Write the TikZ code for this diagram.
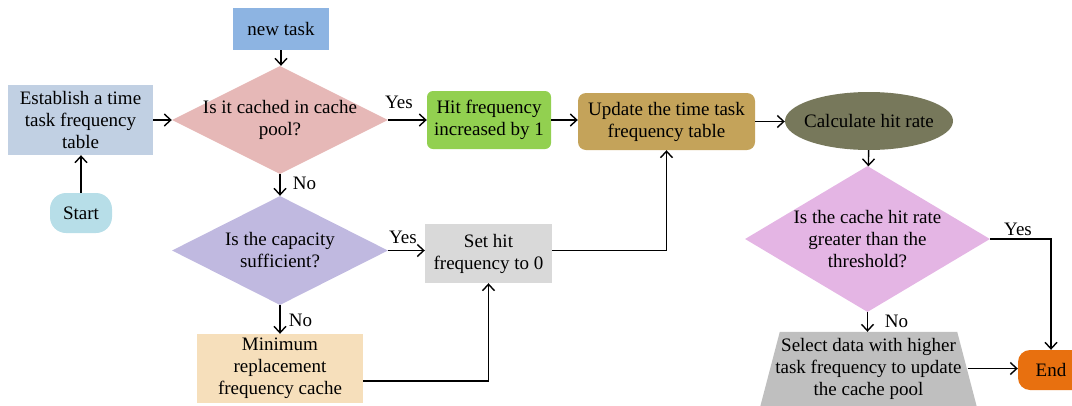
\documentclass[tikz,border=0pt]{standalone}
\usepackage{fontspec}
\setmainfont{Liberation Serif}
\usetikzlibrary{arrows.meta,shapes.geometric,backgrounds}

\definecolor{cNew}{HTML}{8DB4E2}
\definecolor{cEst}{HTML}{C1D0E3}
\definecolor{cStart}{HTML}{B7DEE8}
\definecolor{cAsk}{HTML}{E6B8B7}
\definecolor{cCap}{HTML}{C0B9E0}
\definecolor{cMin}{HTML}{F6DFBB}
\definecolor{cSet}{HTML}{D9D9D9}
\definecolor{cHit}{HTML}{92D050}
\definecolor{cUpd}{HTML}{C4A35A}
\definecolor{cCalc}{HTML}{77785B}
\definecolor{cRate}{HTML}{E4B5E4}
\definecolor{cSel}{HTML}{BFBFBF}
\definecolor{cEnd}{HTML}{E8700F}

\begin{document}
\begin{tikzpicture}[x=1pt,y=-1pt,
  every node/.style={font=\fontsize{19}{22}\selectfont, align=center, inner sep=0pt},
  box/.style={rectangle, draw=none},
  dia/.style={diamond, draw=none},
  lbl/.style={anchor=base},
  flow/.style={draw=black, line width=1.4pt, -{Straight Barb[length=6.5pt,width=12pt]}}]

\useasboundingbox (0,0) rectangle (1072,405);
\clip (0,0) rectangle (1072,405);

% process boxes
\node[box, fill=cNew, minimum width=96pt, minimum height=42pt] (new) at (281,29) {new task};
\node[box, fill=cEst, minimum width=145pt, minimum height=70pt] (est) at (80.5,120) {Establish a time\\task frequency\\table};
\node[box, fill=cStart, rounded corners=16pt, minimum width=62pt, minimum height=40pt] (start) at (81,213) {Start};
\node[box, fill=cHit, rounded corners=6pt, minimum width=124pt, minimum height=58pt] (hit) at (489,120) {Hit frequency\\increased by 1};
\node[box, fill=cUpd, rounded corners=8pt, minimum width=177pt, minimum height=57pt] (upd) at (666.5,121.5) {Update the time task\\frequency table};
\node[box, fill=cSet, minimum width=127pt, minimum height=59pt] (set) at (488.5,253.5) {Set hit\\frequency to 0};
\node[box, fill=cMin, minimum width=166pt, minimum height=69pt] (min) at (280,368.5) {Minimum\\replacement\\frequency cache};
\node[box, fill=cEnd, rounded corners=12pt, minimum width=66pt, minimum height=40pt] (end) at (1051,370) {End};

% decisions
\node[dia, fill=cAsk, minimum width=216pt, minimum height=108pt] (d1) at (280,120) {};
\node (d1t) at (d1) {Is it cached in cache\\pool?};
\node[dia, fill=cCap, minimum width=216pt, minimum height=109pt] (d2) at (280,250.5) {};
\node (d2t) at (d2) {Is the capacity\\sufficient?};
\node[dia, fill=cRate, minimum width=245pt, minimum height=146pt] (d3) at (867.5,239) {};
\node (d3t) at (d3) {Is the cache hit rate\\greater than the\\threshold?};

% hit rate
\node[ellipse, fill=cCalc, minimum width=168pt, minimum height=58pt] (calc) at (869,121) {};
\node (calct) at (calc) {Calculate hit rate};

% cache pool update (trapezoid)
\node[box, minimum width=198pt, minimum height=73pt] (sel) at (868.5,368.5) {Select data with higher\\task frequency to update\\the cache pool};
\begin{scope}[on background layer]
  \fill[cSel] ([xshift=10.5pt]sel.north west) -- ([xshift=-10.5pt]sel.north east)
    -- ([xshift=9.5pt,yshift=-3pt]sel.south east) -- ([xshift=-9.5pt,yshift=-3pt]sel.south west) -- cycle;
\end{scope}

% connectors
\draw[flow] (start.north) -- (start.north |- est.south);
\draw[flow] (est) -- (d1);
\draw[flow] (new.south) -- (new.south |- d1.north);
\draw[flow] (d1) -- (hit);
\draw[flow] (d1) -- (d2);
\draw[flow] (d2.east) -- (d2.east -| set.west);
\draw[flow] (d2) -- (min);
\draw[flow] ([yshift=-12.5pt]min.east) -| (set.south);
\draw[flow] (hit.east) -- (hit.east -| upd.west);
\draw[flow] ([yshift=3pt]set.east) -| (upd.south);
\draw[flow] (upd.east) -- (upd.east -| calc.west);
\draw[flow] (calc) -- (d3);
\draw[flow] (d3.east) -| (end.north);
\draw[flow] (d3.south) -- (d3.south |- sel.north);
\draw[flow] (sel.east) -- (sel.east -| end.west);

% branch labels
\node[lbl] (yes1) at (399,108) {Yes};
\node[lbl] (no1) at (304.5,189) {No};
\node[lbl] (yes2) at (403,243) {Yes};
\node[lbl] (no2) at (300.5,326) {No};
\node[lbl] (yes3) at (1018,235) {Yes};
\node[lbl] (no3) at (896.5,327) {No};
\end{tikzpicture}
\end{document}
